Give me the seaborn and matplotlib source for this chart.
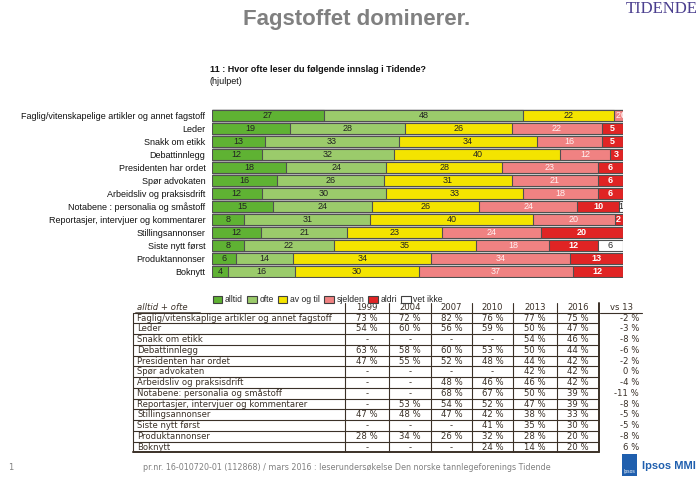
import matplotlib
matplotlib.use("Agg")
import matplotlib.pyplot as plt
import seaborn as sns
import numpy as np
from matplotlib.patches import Patch, Rectangle

# ---------------- data ----------------
categories = [
    "Faglig/vitenskapelige artikler og annet fagstoff",
    "Leder",
    "Snakk om etikk",
    "Debattinnlegg",
    "Presidenten har ordet",
    "Spør advokaten",
    "Arbeidsliv og praksisdrift",
    "Notabene : personalia og småstoff",
    "Reportasjer, intervjuer og kommentarer",
    "Stillingsannonser",
    "Siste nytt først",
    "Produktannonser",
    "Boknytt",
]
alltid = [27, 19, 13, 12, 18, 16, 12, 15, 8, 12, 8, 6, 4]
ofte = [48, 28, 33, 32, 24, 26, 30, 24, 31, 21, 22, 14, 16]
av_og_til = [22, 26, 34, 40, 28, 31, 33, 26, 40, 23, 35, 34, 30]
sjelden = [2, 22, 16, 12, 23, 21, 18, 24, 20, 24, 18, 34, 37]
aldri = [0, 5, 5, 3, 6, 6, 6, 10, 2, 20, 12, 13, 12]
vet_ikke = [0, 0, 0, 0, 0, 0, 0, 1, 0, 0, 6, 0, 0]
series_names = ["alltid", "ofte", "av og til", "sjelden", "aldri", "vet ikke"]
series_colors = ["#5fb233", "#9bcb6b", "#f4e400", "#f08282", "#e02424", "#ffffff"]

table_labels = [
    "Faglig/vitenskaplige artikler og annet fagstoff",
    "Leder",
    "Snakk om etikk",
    "Debattinnlegg",
    "Presidenten har ordet",
    "Spør advokaten",
    "Arbeidsliv og praksisdrift",
    "Notabene: personalia og småstoff",
    "Reportasjer, intervjuer og kommentarer",
    "Stillingsannonser",
    "Siste nytt først",
    "Produktannonser",
    "Boknytt",
]
years = ["1999", "2004", "2007", "2010", "2013", "2016"]
y1999 = [73, 54, None, 63, 47, None, None, None, None, 47, None, 28, None]
y2004 = [72, 60, None, 58, 55, None, None, None, 53, 48, None, 34, None]
y2007 = [82, 56, None, 60, 52, None, 48, 68, 54, 47, None, 26, None]
y2010 = [76, 59, None, 53, 48, None, 46, 67, 52, 42, 41, 32, 24]
y2013 = [77, 50, 54, 50, 44, 42, 46, 50, 47, 38, 35, 28, 14]
y2016 = [75, 47, 46, 44, 42, 42, 42, 39, 39, 33, 30, 20, 20]
vs13 = [-2, -3, -8, -6, -2, 0, -4, -11, -8, -5, -5, -8, 6]

# ---------------- figure ----------------
sns.set_theme(style="white")
plt.rcParams["font.family"] = ["Liberation Sans", "DejaVu Sans"]

W, H = 700, 480
fig = plt.figure(figsize=(7, 4.8), dpi=100)
fig.patch.set_facecolor("white")

ax = fig.add_axes([211.7 / W, 1 - 277.6 / H, 411 / W, 168.6 / H])

data = np.array([alltid, ofte, av_og_til, sjelden, aldri, vet_ikke], dtype=float)
shares = data / data.sum(axis=0) * 100
cum = np.cumsum(shares, axis=0)
starts = cum - shares

for k in range(len(series_names) - 1, -1, -1):
    sns.barplot(x=cum[k], y=categories, orient="h", color=series_colors[k],
                saturation=1, edgecolor="#505050", linewidth=0.8, width=0.84,
                ax=ax)

text_colors = ["#222222", "#222222", "#222222", "#fff2f2", "white", "#222222"]
for k in range(len(series_names)):
    for i in range(len(categories)):
        v = data[k, i]
        if v > 0 or k == 4:
            ax.text(starts[k, i] + shares[k, i] / 2, i, f"{int(v)}",
                    ha="center", va="center", fontsize=6.5,
                    color=text_colors[k],
                    fontweight="bold" if k == 4 else "normal",
                    clip_on=True)

ax.set_xlim(0, 100)
ax.set_ylim(len(categories) - 0.5, -0.5)
ax.set_xlabel("")
ax.set_ylabel("")
ax.set_xticks([])
for s in ax.spines.values():
    s.set_visible(False)
ax.tick_params(axis="y", length=0, pad=4.5, labelsize=6.5, labelcolor="#111111")

# legend
handles = [Patch(facecolor=c, edgecolor="#404040", linewidth=0.8, label=n)
           for n, c in zip(series_names, series_colors)]
fig.legend(handles=handles, loc="center", bbox_to_anchor=(328 / W, 1 - 300 / H),
           ncol=6, frameon=False, fontsize=6.2, handlelength=1.1,
           handleheight=0.8, handletextpad=0.3, columnspacing=0.5)

# ---------------- overlay (titles, table, footer) ----------------
ov = fig.add_axes([0, 0, 1, 1])
ov.set_xlim(0, W)
ov.set_ylim(H, 0)
ov.axis("off")
ov.patch.set_visible(False)

ov.text(357, 20, "Fagstoffet dominerer.", ha="center", va="center",
        fontsize=16, fontweight="bold", color="#808080")
ov.text(698, 9, "TIDENDE", ha="right", va="center", family="Liberation Serif",
        fontsize=12, color="#4b3f8f")
ov.text(210, 70, "11 : Hvor ofte leser du følgende innslag i Tidende?",
        ha="left", va="center", fontsize=6.5, fontweight="bold", color="#111111")
ov.text(210, 81, "(hjulpet)", ha="left", va="center", fontsize=6.5, color="#111111")

# table
tfont = dict(family="DejaVu Sans", fontsize=6.1, color="#3b3128")
lc = "#3b3128"
top = 312.5
rh = 10.75
left = 133
col_edges = [345, 389, 431, 472, 513, 557, 599]
nrows = len(table_labels)
bottom = top + nrows * rh
year_vals = [y1999, y2004, y2007, y2010, y2013, y2016]

ov.text(137, 308, "alltid + ofte", ha="left", va="center", style="italic", **tfont)
ov.plot([135, 200], [311.5, 311.5], color=lc, lw=0.5)
for j, yr in enumerate(years):
    cx = (col_edges[j] + col_edges[j + 1]) / 2
    ov.text(cx, 308, yr, ha="center", va="center", **tfont)
ov.text(622, 308, "vs 13", ha="center", va="center", **tfont)
ov.plot([600, 642], [top, top], color=lc, lw=0.8)

ov.plot([left, col_edges[-1]], [top, top], color=lc, lw=0.8)
for i in range(nrows):
    yc = top + (i + 0.5) * rh + 0.3
    yb = top + (i + 1) * rh
    ov.plot([left, col_edges[-1]], [yb, yb], color=lc, lw=0.8 if i < nrows - 1 else 1.4)
    ov.text(137, yc, table_labels[i], ha="left", va="center", **tfont)
    for j in range(len(years)):
        v = year_vals[j][i]
        cx = (col_edges[j] + col_edges[j + 1]) / 2
        ov.text(cx, yc, "-" if v is None else f"{v} %", ha="center", va="center", **tfont)
    ov.text(639, yc, f"{vs13[i]} %", ha="right", va="center", **tfont)

ov.plot([left, left], [top, bottom], color=lc, lw=0.8)
for j, x in enumerate(col_edges):
    ov.plot([x, x], [303, bottom], color=lc, lw=0.8 if j < len(col_edges) - 1 else 1.4)

# footer
ov.text(8, 467, "1", ha="left", va="center", family="DejaVu Sans", fontsize=6, color="#808080")
ov.text(143, 467,
        "pr.nr. 16-010720-01 (112868) / mars 2016 : leserundersøkelse Den norske tannlegeforenings Tidende",
        ha="left", va="center", family="DejaVu Sans", fontsize=5.75, color="#808080")
ov.add_patch(Rectangle((622, 454), 15, 22, facecolor="#1f5fae", edgecolor="none"))
ov.text(629.5, 472, "Ipsos", ha="center", va="center", fontsize=3.5, color="white")
ov.text(642, 466, "Ipsos MMI", ha="left", va="center", fontsize=8,
        fontweight="bold", color="#1f5fae")

fig.savefig("out.png", dpi=100)
